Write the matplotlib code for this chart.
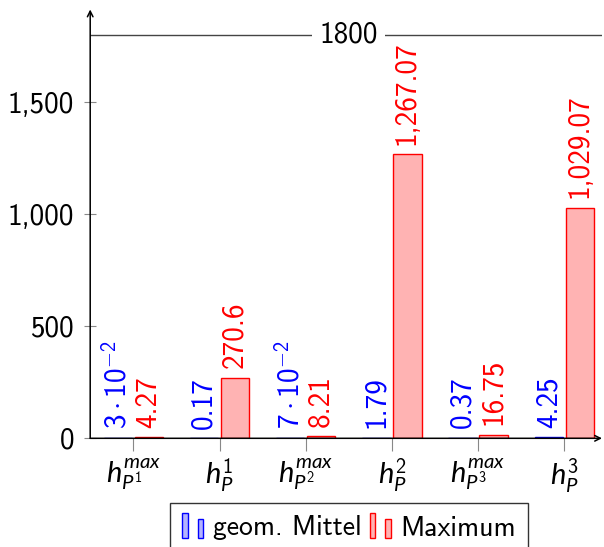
import matplotlib
matplotlib.use("Agg")
import matplotlib.pyplot as plt
import numpy as np
from matplotlib.legend_handler import HandlerBase
from matplotlib.patches import Rectangle
from matplotlib.ticker import FixedLocator, FuncFormatter
import matplotlib.transforms as mtransforms

plt.rcParams['font.family'] = ['cmss10', 'DejaVu Sans']
plt.rcParams['mathtext.fontset'] = 'custom'
plt.rcParams['mathtext.rm'] = 'cmss10'
plt.rcParams['mathtext.sf'] = 'cmss10'
plt.rcParams['mathtext.it'] = 'Lato:italic'
plt.rcParams['axes.unicode_minus'] = False

# ---- data ----
categories = [r'$h_{P^1}^{max}$', r'$h_{P}^{1}$', r'$h_{P^2}^{max}$',
              r'$h_{P}^{2}$', r'$h_{P^3}^{max}$', r'$h_{P}^{3}$']
geom_mittel = [0.03, 0.17, 0.07, 1.79, 0.37, 4.25]
maximum = [4.27, 270.6, 8.21, 1267.07, 16.75, 1029.07]
geom_labels = [r'$3\cdot10^{-2}$', '0.17', r'$7\cdot10^{-2}$', '1.79', '0.37', '4.25']
max_labels = ['4.27', '270.6', '8.21', '1,267.07', '16.75', '1,029.07']
yticks = [0, 500, 1000, 1500]
ref_line = 1800
series_names = ['geom. Mittel', 'Maximum']

blue_face = '#B3B3FF'
red_face = '#FFB3B3'
FS = 21
LFS = 20

W, H = 604, 547
fig = plt.figure(figsize=(W / 100, H / 100), dpi=100)
x0, y0 = 90.2, 438.3
x1, ytop = 602, 9.5
ax = fig.add_axes([x0 / W, (H - y0) / H, (x1 - x0) / W, (y0 - ytop) / H])

x = np.arange(len(categories))
off, bw = 0.18, 0.33
ax.bar(x - off, geom_mittel, width=bw, color=blue_face, edgecolor='blue', linewidth=1, zorder=2)
ax.bar(x + off, maximum, width=bw, color=red_face, edgecolor='red', linewidth=1, zorder=2)

for xi, v, lab in zip(x - off, geom_mittel, geom_labels):
    ax.annotate(lab, xy=(xi, v), xytext=(0, 7), textcoords='offset points',
                rotation=90, ha='center', va='bottom', color='blue', fontsize=FS)
for xi, v, lab in zip(x + off, maximum, max_labels):
    ax.annotate(lab, xy=(xi, v), xytext=(0, 7), textcoords='offset points',
                rotation=90, ha='center', va='bottom', color='red', fontsize=FS)

px_per_unit = 86.2
ax.set_xlim(-0.5, -0.5 + (x1 - x0) / px_per_unit)
ax.set_ylim(0, ref_line * (y0 - ytop) / (y0 - 35.0))

ax.yaxis.set_major_locator(FixedLocator(yticks))
ax.yaxis.set_major_formatter(FuncFormatter(lambda v, p: f'{int(v):,}'))
ax.set_xticks(x)
ax.set_xticklabels(categories, fontsize=FS)
ax.tick_params(axis='y', direction='inout', length=9, width=0.8, color='#888888',
               labelsize=FS, pad=7)
ax.tick_params(axis='x', direction='out', length=9, width=0.8, color='#888888',
               labelsize=FS, pad=4)

for s in ax.spines.values():
    s.set_visible(False)
ax.annotate('', xy=(0, 1), xytext=(0, 0), xycoords='axes fraction',
            arrowprops=dict(arrowstyle='->', lw=1.1, color='black', shrinkA=0, shrinkB=0))
ax.annotate('', xy=(1, 0), xytext=(0, 0), xycoords='axes fraction',
            arrowprops=dict(arrowstyle='->', lw=1.1, color='black', shrinkA=0, shrinkB=0))

ax.axhline(ref_line, color='#444444', lw=1, zorder=1)
trans = mtransforms.blended_transform_factory(ax.transAxes, ax.transData)
ax.text(0.505, ref_line, str(ref_line), transform=trans, ha='center', va='center',
        fontsize=FS, bbox=dict(facecolor='white', edgecolor='none', pad=5), zorder=3)


class TwoBarHandler(HandlerBase):
    def __init__(self, face, edge):
        super().__init__()
        self.face, self.edge = face, edge

    def create_artists(self, legend, orig_handle, xdescent, ydescent, width, height,
                       fontsize, trans):
        bw = width * 0.22
        r1 = Rectangle((-xdescent, -ydescent - height * 0.15), bw, height * 1.3,
                       facecolor=self.face, edgecolor=self.edge, lw=1, transform=trans)
        r2 = Rectangle((-xdescent + width * 0.62, -ydescent - height * 0.15), bw, height * 1.0,
                       facecolor=self.face, edgecolor=self.edge, lw=1, transform=trans)
        return [r1, r2]


h1 = Rectangle((0, 0), 1, 1)
h2 = Rectangle((0, 0), 1, 1)
leg = fig.legend([h1, h2], series_names, ncol=2, loc='upper center',
                 bbox_to_anchor=(349 / W, 1 - 503 / H), fontsize=LFS,
                 handler_map={h1: TwoBarHandler(blue_face, 'blue'),
                              h2: TwoBarHandler(red_face, 'red')},
                 handlelength=0.9, handletextpad=0.2, columnspacing=0.3,
                 borderpad=0.45, fancybox=False, frameon=True, borderaxespad=0)
leg.get_frame().set_edgecolor('black')
leg.get_frame().set_linewidth(1)

fig.savefig('out.png', dpi=100)
